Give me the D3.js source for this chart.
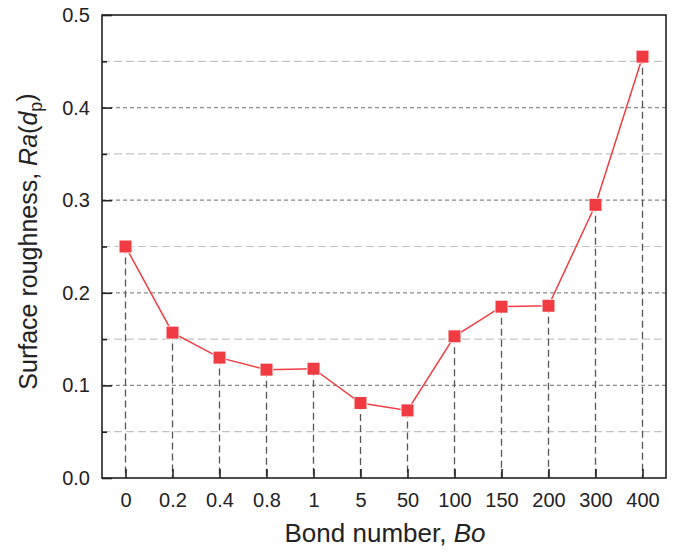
<!DOCTYPE html>
<html>
<head>
<meta charset="utf-8">
<script src="https://cdn.jsdelivr.net/npm/d3@7"></script>
<style>
  body { margin: 0; background: #fff; }
  text { font-family: "Liberation Sans", Arial, sans-serif; fill: #222; }
</style>
</head>
<body>
<svg width="684" height="552"></svg>
<script>
// Data
var categories = ["0", "0.2", "0.4", "0.8", "1", "5", "50", "100", "150", "200", "300", "400"];
var roughness = [0.250, 0.157, 0.130, 0.117, 0.118, 0.081, 0.073, 0.153, 0.185, 0.186, 0.295, 0.455];
var majorTicks = [0.0, 0.1, 0.2, 0.3, 0.4, 0.5];
var minorTicks = [0.05, 0.15, 0.25, 0.35, 0.45];

var svg = d3.select("svg");
var margin = {left: 102, right: 18, top: 15, bottom: 74};
var width = 684 - margin.left - margin.right,
    height = 552 - margin.top - margin.bottom;

var g = svg.append("g").attr("transform", "translate(" + margin.left + "," + margin.top + ")");

var x = d3.scalePoint().domain(categories).range([0, width]).padding(0.5);
var y = d3.scaleLinear().domain([0, 0.5]).range([height, 0]);

// grid lines
g.selectAll(".minor-grid").data(minorTicks).enter().append("line")
  .attr("x1", 0).attr("x2", width)
  .attr("y1", function(d) { return y(d); }).attr("y2", function(d) { return y(d); })
  .attr("stroke", "#c4c4c4").attr("stroke-width", 1.2).attr("stroke-dasharray", "8,4");

g.selectAll(".major-grid").data(majorTicks.slice(1, 5)).enter().append("line")
  .attr("x1", 0).attr("x2", width)
  .attr("y1", function(d) { return y(d); }).attr("y2", function(d) { return y(d); })
  .attr("stroke", "#8a8a8a").attr("stroke-width", 1.2).attr("stroke-dasharray", "4,3");

// drop lines from each point
g.selectAll(".drop").data(roughness).enter().append("line")
  .attr("x1", function(d, i) { return x(categories[i]); })
  .attr("x2", function(d, i) { return x(categories[i]); })
  .attr("y1", function(d) { return y(d); })
  .attr("y2", height)
  .attr("stroke", "#555").attr("stroke-width", 1.3).attr("stroke-dasharray", "7,4");

// frame
g.append("rect").attr("width", width).attr("height", height)
  .attr("fill", "none").attr("stroke", "#222").attr("stroke-width", 1.6);

// y axis
var yAxis = d3.axisLeft(y).tickValues(majorTicks).tickFormat(d3.format(".1f")).tickSize(-10).tickPadding(12);
var ya = g.append("g").call(yAxis);
ya.select(".domain").remove();
ya.selectAll("line").attr("stroke", "#222").attr("stroke-width", 1.6);
ya.selectAll("text").style("font-size", "20px");

var yMinor = d3.axisLeft(y).tickValues(minorTicks).tickSize(-5).tickFormat("");
var ym = g.append("g").call(yMinor);
ym.select(".domain").remove();
ym.selectAll("line").attr("stroke", "#222").attr("stroke-width", 1.6);

// x axis
var xAxis = d3.axisBottom(x).tickSize(-9).tickPadding(15);
var xa = g.append("g").attr("transform", "translate(0," + height + ")").call(xAxis);
xa.select(".domain").remove();
xa.selectAll("line").attr("stroke", "#222").attr("stroke-width", 1.6);
xa.selectAll("text").style("font-size", "20px").attr("dy", "0.71em");

// line
var line = d3.line()
  .x(function(d, i) { return x(categories[i]); })
  .y(function(d) { return y(d); });
g.append("path").datum(roughness)
  .attr("d", line).attr("fill", "none")
  .attr("stroke", "#ef3e43").attr("stroke-width", 1.5);

// markers
g.selectAll(".marker").data(roughness).enter().append("rect")
  .attr("x", function(d, i) { return x(categories[i]) - 6; })
  .attr("y", function(d) { return y(d) - 6; })
  .attr("width", 12).attr("height", 12)
  .attr("fill", "#ef3b41").attr("stroke", "#fff").attr("stroke-width", 1.5)
  .attr("paint-order", "stroke");

// axis titles
var xt = svg.append("text")
  .attr("x", margin.left + width / 2 + 1).attr("y", 542)
  .attr("text-anchor", "middle").style("font-size", "26px");
xt.append("tspan").text("Bond number, ");
xt.append("tspan").style("font-style", "italic").text("Bo");

var yt = svg.append("text")
  .attr("transform", "translate(37," + (margin.top + height / 2 - 5) + ") rotate(-90)")
  .attr("text-anchor", "middle").style("font-size", "25px");
yt.append("tspan").text("Surface roughness, ");
yt.append("tspan").style("font-style", "italic").text("Ra");
yt.append("tspan").text("(");
yt.append("tspan").style("font-style", "italic").text("d");
yt.append("tspan").attr("dy", "0.3em").style("font-size", "18px").text("p");
yt.append("tspan").attr("dy", "-0.3em").text(")");
</script>
</body>
</html>
